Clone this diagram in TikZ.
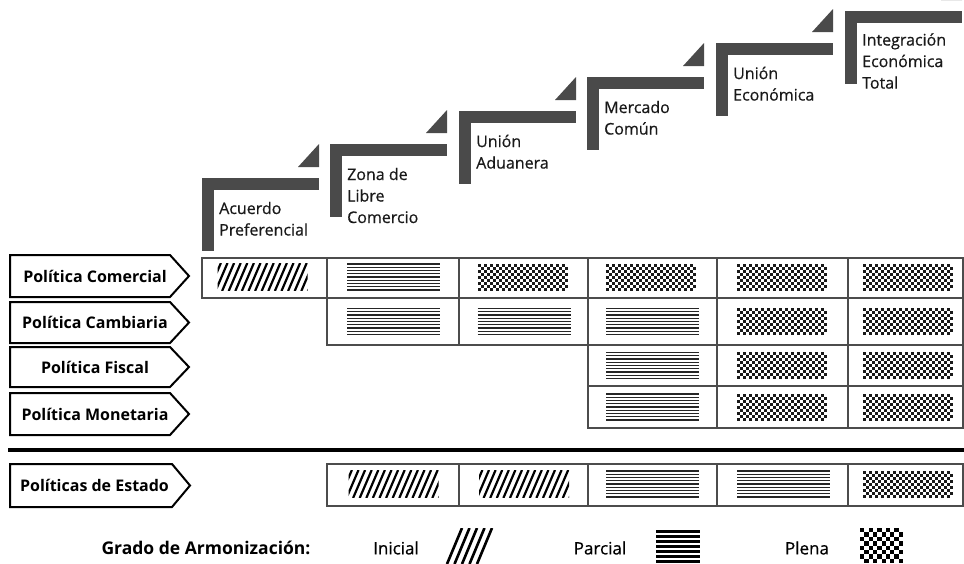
\documentclass[tikz,border=0pt]{standalone}
\usepackage{fontspec}
\setmainfont{Open Sans}
\newfontfamily\medfont{Open Sans}[FakeBold=0.6]
\definecolor{barc}{HTML}{4A4A4A}
\definecolor{gridc}{HTML}{4C4C4C}
\newcommand\HatchPatch[2]{%
  \begin{scope}
    \clip ({#1-45},{#2-13.5}) rectangle ({#1+45},{#2+13.5});
    \foreach \k in {-1,...,14} \draw[hatchln] ({#1-47+6.6*\k},{#2+14}) -- ++(12,-28);
  \end{scope}}
\newcommand\LinesPatch[2]{%
  \foreach \k in {0,...,8} \draw[lineln] ({#1-46.5},{#2-13+3.25*\k}) -- ++(93,0);}
\newcommand\ChkPatch[2]{%
  \foreach \j in {0,...,8} {%
    \pgfmathtruncatemacro\chkoff{mod(\j,2)}%
    \foreach \i in {0,2,...,28} \fill[black!90] ({#1-46.5+3*(\i+\chkoff)},{#2-13.5+3*\j}) rectangle ++(3,3);}}
\newcommand\StageShape[2]{%
  \fill[barc] (#1,#2) rectangle ++(117,12);
  \fill[barc] (#1,#2) rectangle ++(12,73);
  \fill[barc] ({#1+96},{#2-11}) -- ({#1+117},{#2-11}) -- ({#1+117},{#2-34}) -- cycle;}
\begin{document}
\begin{tikzpicture}[x=1pt,y=-1pt,
  hatchln/.style={line width=2.2pt,black},
  lineln/.style={line width=1.4pt,black!85},
  cellbox/.style={draw=gridc,line width=1.8pt},
  tag/.style={draw=black,line width=2pt,fill=white,line join=miter},
  tagtext/.style={font=\fontsize{16}{19}\selectfont\bfseries,inner sep=0pt},
  stagetext/.style={font=\fontsize{16}{21.5}\selectfont\medfont,align=left,anchor=west,inner sep=0pt,text=black!90},
  legtext/.style={font=\fontsize{17}{20}\selectfont\medfont,inner sep=0pt}]
\useasboundingbox (0,0) rectangle (964,563);
% stages
\StageShape{202}{178}
\StageShape{330}{144}
\StageShape{459}{111}
\StageShape{587}{77}
\StageShape{716}{43}
\StageShape{845}{11}
\node[stagetext] (s1) at (219,218.75) {Acuerdo\\Preferencial};
\node[stagetext] (s2) at (347,195.5) {Zona de\\Libre\\Comercio};
\node[stagetext] (s3) at (476,151.75) {Unión\\Aduanera};
\node[stagetext] (s4) at (604,117.75) {Mercado\\Común};
\node[stagetext] (s5) at (733,83.75) {Unión\\Económica};
\node[stagetext] (s6) at (862,61) {Integración\\Económica\\Total};
% table cells
\foreach \xa/\xb in {202/327,327/459,459/588,588/717,717/848,848/963}
  \draw[cellbox] (\xa,258) rectangle (\xb,298);
\foreach \xa/\xb in {327/459,459/588,588/717,717/848,848/963}
  \draw[cellbox] (\xa,298) rectangle (\xb,345);
\foreach \xa/\xb in {588/717,717/848,848/963}
  {\draw[cellbox] (\xa,345) rectangle (\xb,386);
   \draw[cellbox] (\xa,386) rectangle (\xb,428);}
\foreach \xa/\xb in {327/459,459/588,588/717,717/848,848/963}
  \draw[cellbox] (\xa,464) rectangle (\xb,506);
% patterns row 1
\HatchPatch{262.5}{277}
\LinesPatch{393.5}{277}
\ChkPatch{524}{277}
\ChkPatch{652.5}{277}
\ChkPatch{783.5}{277}
\ChkPatch{909}{277}
% row 2
\LinesPatch{393.5}{321.5}
\LinesPatch{524}{321.5}
\LinesPatch{652.5}{321.5}
\ChkPatch{783.5}{321.5}
\ChkPatch{909}{321.5}
% row 3
\LinesPatch{652.5}{365.5}
\ChkPatch{783.5}{365.5}
\ChkPatch{909}{365.5}
% row 4
\LinesPatch{652.5}{407}
\ChkPatch{783.5}{407}
\ChkPatch{909}{407}
% estado
\HatchPatch{393.5}{484}
\HatchPatch{524}{484}
\LinesPatch{652.5}{484}
\LinesPatch{783.5}{484}
\ChkPatch{909}{484}
% row tags
\draw[tag] (10,255) -- (170,255) -- (189,276) -- (170,297) -- (10,297) -- cycle;
\node[tagtext] (pc) at (95,276) {Política Comercial};
\draw[tag] (10,302) -- (170,302) -- (189,322.5) -- (170,343) -- (10,343) -- cycle;
\node[tagtext] (pcb) at (95,322.5) {Política Cambiaria};
\draw[tag] (10,347) -- (170,347) -- (189,367) -- (170,387) -- (10,387) -- cycle;
\node[tagtext] (pf) at (95,367) {Política Fiscal};
\draw[tag] (10,393) -- (170,393) -- (189,414) -- (170,435) -- (10,435) -- cycle;
\node[tagtext] (pm) at (95,414) {Política Monetaria};
\draw[line width=3.5pt] (8,450) -- (964,450);
\draw[tag] (10,464) -- (172,464) -- (190,485.5) -- (172,507) -- (10,507) -- cycle;
\node[tagtext] (pe) at (94.5,485.5) {Políticas de Estado};
% legend
\node[inner sep=0pt,font=\fontsize{17.5}{20}\selectfont\bfseries] (lg) at (206,548) {Grado de Armonización:};
\node[legtext] (li) at (396,548) {Inicial};
\node[legtext] (lp) at (600,548) {Parcial};
\node[legtext] (ll) at (807,548) {Plena};
\begin{scope}
  \clip (445,528) rectangle (493,563);
  \foreach \k in {0,...,4} \draw[line width=2.6pt] ({447+7.5*\k},564) -- ++(15,-36);
\end{scope}
\foreach \k in {0,...,6} \draw[line width=2.4pt] (656,{531.5+5*\k}) -- (700,{531.5+5*\k});
\foreach \j in {0,...,7} {%
  \pgfmathtruncatemacro\chkoff{mod(\j,2)}%
  \foreach \i in {0,2,...,8} \fill ({860+4.3*(\i+\chkoff)},{528+4.4*\j}) rectangle ++(4.3,4.4);}
\end{tikzpicture}
\end{document}
